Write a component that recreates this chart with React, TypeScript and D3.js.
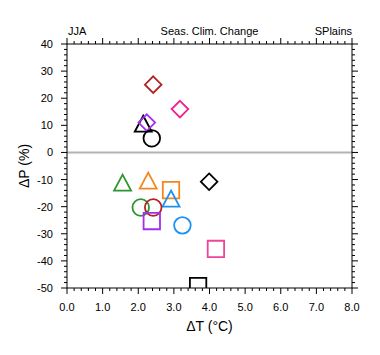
import React from "react";
import * as d3 from "d3";

const dT = [2.42, 3.17, 2.14, 2.24, 2.38, 1.56, 2.28, 2.92, 3.99, 2.92, 2.07, 2.42, 2.38, 3.24, 4.18, 3.68];
const dP = [25, 16, 10.3, 11, 5.2, -11.4, -10.7, -13.9, -10.8, -17.3, -20.3, -20.3, -25.3, -26.9, -35.6, -49.3];
const shapes = ["diamond", "diamond", "triangle", "diamond", "circle", "triangle", "triangle", "square", "diamond", "triangle", "circle", "circle", "square", "circle", "square", "square"];
const colors = ["#b22222", "#f0208c", "#000000", "#a030f0", "#000000", "#2e962e", "#f5861f", "#f5861f", "#000000", "#2090f0", "#2e962e", "#b22222", "#a030f0", "#2090f0", "#f0449a", "#000000"];

const xTicks = [0, 1, 2, 3, 4, 5, 6, 7, 8];
const yTicks = [40, 30, 20, 10, 0, -10, -20, -30, -40, -50];

const W = 380, H = 355;
const L = 67, R = 352, T = 44, B = 288;

function markerPath(shape: string, cx: number, cy: number): string {
  const p = d3.path();
  if (shape === "circle") {
    p.arc(cx, cy, 8.3, 0, Math.PI * 2);
    p.closePath();
  } else if (shape === "square") {
    const h = 8.2;
    p.rect(cx - h, cy - h, 2 * h, 2 * h);
  } else if (shape === "diamond") {
    const h = 8.3;
    p.moveTo(cx, cy - h);
    p.lineTo(cx + h, cy);
    p.lineTo(cx, cy + h);
    p.lineTo(cx - h, cy);
    p.closePath();
  } else {
    const hw = 8.5, ht = 16;
    p.moveTo(cx, cy - ht * 0.55);
    p.lineTo(cx + hw, cy + ht * 0.45);
    p.lineTo(cx - hw, cy + ht * 0.45);
    p.closePath();
  }
  return p.toString();
}

export default function App() {
  const x = d3.scaleLinear().domain([0, 8]).range([L, R]);
  const y = d3.scaleLinear().domain([-50, 40]).range([B, T]);
  const xMinor = d3.range(0, 8.001, 0.2);
  const yMinor = d3.range(-50, 40.001, 2);
  const font = "'Liberation Sans', Arial, Helvetica, sans-serif";
  return (
    <svg width={W} height={H} style={{ position: "absolute", left: 0, top: 0 }} fontFamily={font}>
      <rect width={W} height={H} fill="#fff" />
      <defs>
        <clipPath id="plotclip">
          <rect x={L} y={T} width={R - L} height={B - T} />
        </clipPath>
      </defs>
      {/* zero line */}
      <line x1={L} x2={R} y1={y(0)} y2={y(0)} stroke="#b3b3b3" strokeWidth={2} />
      {/* markers */}
      <g clipPath="url(#plotclip)">
        {dT.map((t, i) => (
          <path key={i} d={markerPath(shapes[i], x(t), y(dP[i]))} fill="none" stroke={colors[i]} strokeWidth={1.8} strokeLinejoin="miter" />
        ))}
      </g>
      {/* frame */}
      <rect x={L} y={T} width={R - L} height={B - T} fill="none" stroke="#000" strokeWidth={1} />
      {/* x ticks */}
      {xMinor.map((v, i) => {
        const major = Math.abs(v - Math.round(v)) < 1e-6;
        const len = major ? 6 : 3;
        return (
          <g key={"xm" + i} stroke="#000" strokeWidth={1}>
            <line x1={x(v)} x2={x(v)} y1={B} y2={B + len} />
            <line x1={x(v)} x2={x(v)} y1={T} y2={T - len} />
          </g>
        );
      })}
      {yMinor.map((v, i) => {
        const major = Math.abs(v / 10 - Math.round(v / 10)) < 1e-6;
        const len = major ? 6 : 3;
        return (
          <g key={"ym" + i} stroke="#000" strokeWidth={1}>
            <line x1={L} x2={L - len} y1={y(v)} y2={y(v)} />
            <line x1={R} x2={R + len} y1={y(v)} y2={y(v)} />
          </g>
        );
      })}
      {xTicks.map((v) => (
        <text key={"xl" + v} x={x(v)} y={311} textAnchor="middle" fontSize={11}>{v.toFixed(1)}</text>
      ))}
      {yTicks.map((v) => (
        <text key={"yl" + v} x={53} y={y(v) + 4} textAnchor="end" fontSize={11}>{v}</text>
      ))}
      <text x={(L + R) / 2} y={331} textAnchor="middle" fontSize={14}>ΔT (°C)</text>
      <text transform={`translate(29,${(T + B) / 2}) rotate(-90)`} textAnchor="middle" fontSize={14}>ΔP (%)</text>
      <text x={L + 1} y={35} fontSize={11}>JJA</text>
      <text x={(L + R) / 2} y={35} textAnchor="middle" fontSize={11}>Seas. Clim. Change</text>
      <text x={R} y={35} textAnchor="end" fontSize={11}>SPlains</text>
    </svg>
  );
}
